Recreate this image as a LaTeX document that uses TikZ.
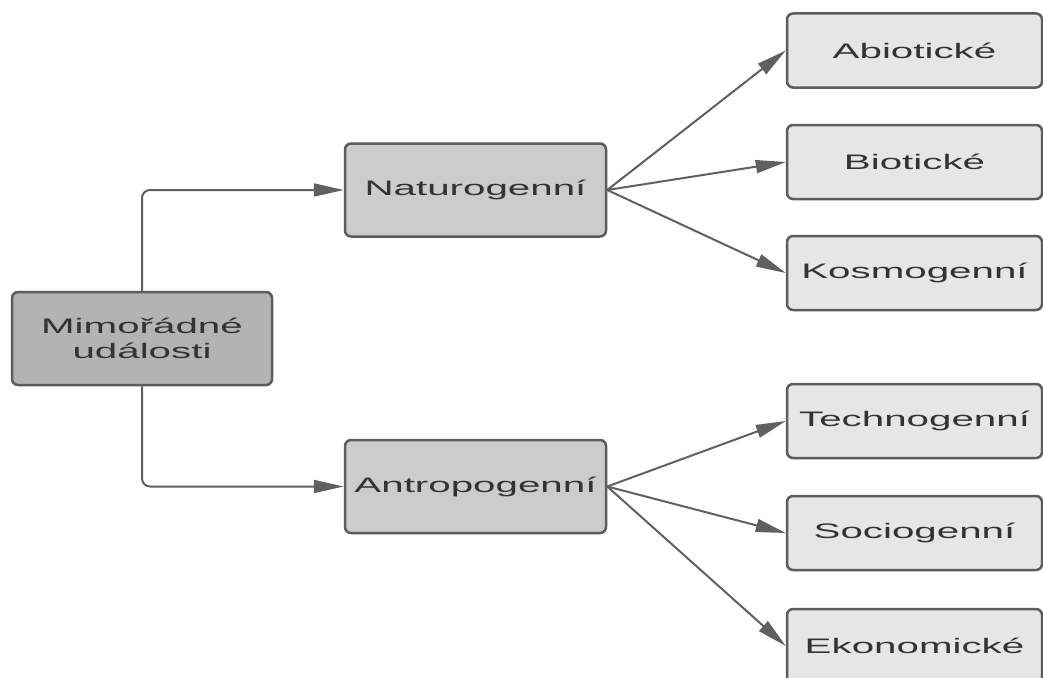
\documentclass[tikz,border=0pt]{standalone}
\usepackage{fontspec}
\setmainfont{Liberation Sans}
\usepackage{graphicx}
\usetikzlibrary{arrows.meta}
\definecolor{rootfill}{HTML}{B3B3B3}
\definecolor{midfill}{HTML}{CCCCCC}
\definecolor{leaffill}{HTML}{E6E6E6}
\definecolor{boxline}{HTML}{5C5C5C}
\definecolor{lineclr}{HTML}{606060}
\definecolor{txt}{HTML}{333333}
\newcommand{\sx}[1]{\scalebox{1.92}[1]{#1}}
\begin{document}
\begin{tikzpicture}[x=1pt,y=-1pt,
  box/.style={draw=boxline, line width=2.5pt, rounded corners=6pt, inner sep=0pt,
    text=txt, font=\fontsize{21}{25}\selectfont, align=center},
  rootbox/.style={box, fill=rootfill, minimum width=260pt, minimum height=93pt},
  midbox/.style={box, fill=midfill, minimum width=261pt, minimum height=93pt},
  leafbox/.style={box, fill=leaffill, minimum width=255pt, minimum height=74pt},
  conn/.style={draw=lineclr, line width=2pt, -{Triangle[length=30pt,width=13pt]}}]
\clip (0,0) rectangle (1043,677);

\node[rootbox] (root) at (142,338.5) {\sx{Mimořádné}\\\sx{události}};
\node[midbox] (nat) at (475.5,190) {\sx{Naturogenní}};
\node[midbox] (ant) at (475.5,486.5) {\sx{Antropogenní}};

\node[leafbox] (abio) at (914.5,50.5) {\sx{Abiotické}};
\node[leafbox] (bio) at (914.5,162) {\sx{Biotické}};
\node[leafbox] (kos) at (914.5,273) {\sx{Kosmogenní}};
\node[leafbox] (tech) at (914.5,421) {\sx{Technogenní}};
\node[leafbox] (soc) at (914.5,533) {\sx{Sociogenní}};
\node[leafbox] (eko) at (914.5,646) {\sx{Ekonomické}};

\draw[conn, rounded corners=8pt] (root.north) |- (nat.west);
\draw[conn, rounded corners=8pt] (root.south) |- (ant.west);

\draw[conn] (nat.east) -- (abio.west);
\draw[conn] (nat.east) -- (bio.west);
\draw[conn] (nat.east) -- (kos.west);
\draw[conn] (ant.east) -- (tech.west);
\draw[conn] (ant.east) -- (soc.west);
\draw[conn] (ant.east) -- (eko.west);
\end{tikzpicture}
\end{document}
